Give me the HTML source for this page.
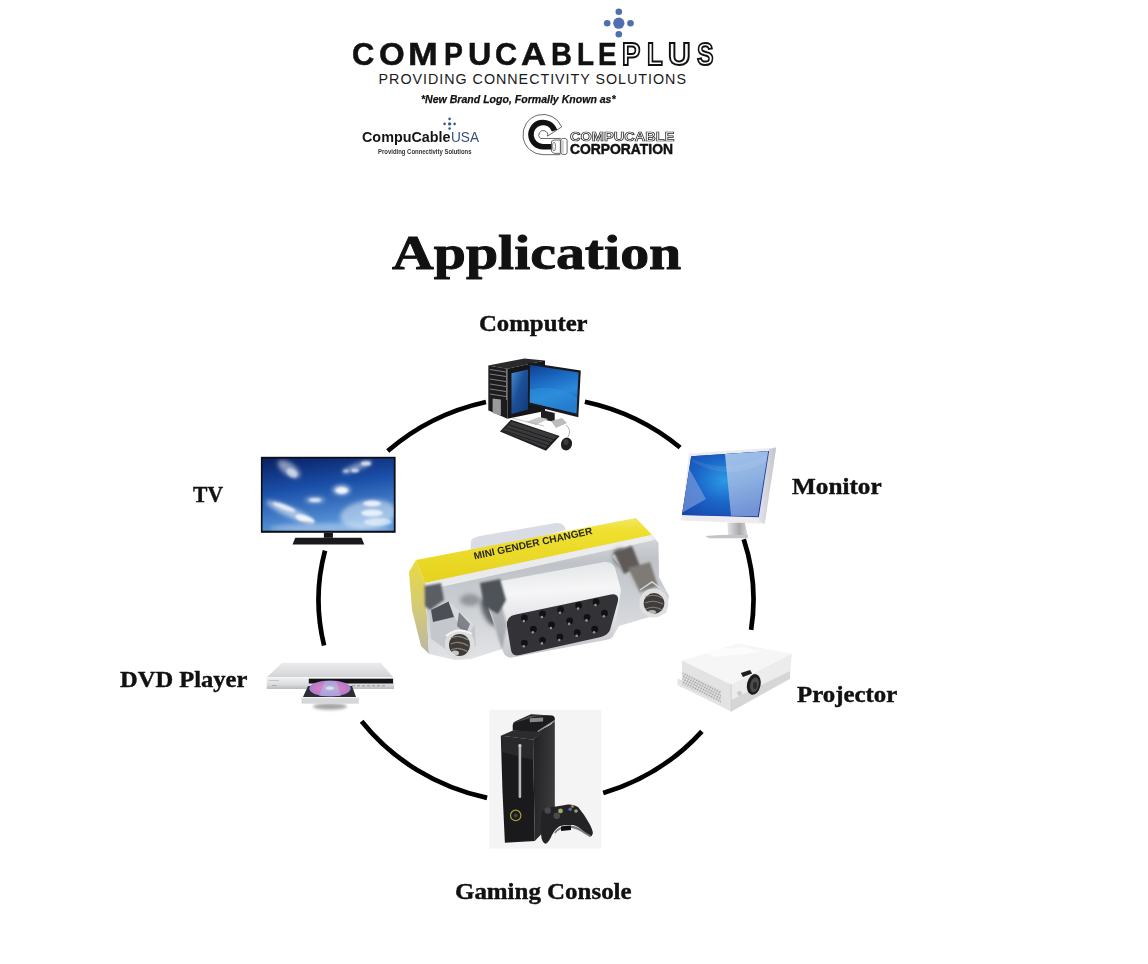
<!DOCTYPE html>
<html><head><meta charset="utf-8">
<style>
html,body{margin:0;padding:0;background:#fff;width:1148px;height:964px;overflow:hidden;position:relative}
.a{position:absolute;white-space:nowrap;line-height:1}
.lbl{position:absolute;white-space:nowrap;line-height:1;font-family:"Liberation Serif",serif;font-weight:bold;color:#111;font-size:22.5px;transform-origin:0 0;-webkit-text-stroke:0.4px #111}
.sans{font-family:"Liberation Sans",sans-serif}
.lg{position:absolute;top:37.8px;font-family:"Liberation Sans",sans-serif;font-weight:bold;font-size:32px;line-height:1;color:#111;transform-origin:0 0;-webkit-text-stroke:0.5px #111}
.lg.o{color:#fff;-webkit-text-stroke:2px #111}
</style></head><body>
<!-- LOGO -->
<span class="lg" style="left:351.7px;transform:scaleX(0.966)">C</span>
<span class="lg" style="left:378.5px;transform:scaleX(1.031)">O</span>
<span class="lg" style="left:408.4px;transform:scaleX(1.116)">M</span>
<span class="lg" style="left:443.6px;transform:scaleX(0.887)">P</span>
<span class="lg" style="left:467.6px;transform:scaleX(1.010)">U</span>
<span class="lg" style="left:495.4px;transform:scaleX(0.957)">C</span>
<span class="lg" style="left:521.2px;transform:scaleX(1.089)">A</span>
<span class="lg" style="left:550.7px;transform:scaleX(0.907)">B</span>
<span class="lg" style="left:576.6px;transform:scaleX(0.870)">L</span>
<span class="lg" style="left:597.5px;transform:scaleX(0.871)">E</span>
<span class="lg o" style="left:621.7px;transform:scaleX(0.859)">P</span>
<span class="lg o" style="left:646.8px;transform:scaleX(0.803)">L</span>
<span class="lg o" style="left:668.2px;transform:scaleX(0.979)">U</span>
<span class="lg o" style="left:696.6px;transform:scaleX(0.771)">S</span>
<div class="a sans" id="prov" style="left:378.6px;top:72.1px;font-size:14.3px;letter-spacing:0.98px;color:#1a1a1a">PROVIDING CONNECTIVITY SOLUTIONS</div>
<div class="a sans" id="nb" style="left:421px;top:93.6px;font-size:11px;font-style:italic;font-weight:bold;color:#111;-webkit-text-stroke:0.25px #111;transform:scaleX(0.959);transform-origin:0 0">*New Brand Logo, Formally Known as*</div>
<svg class="a" style="left:600px;top:4px" width="38" height="38" viewBox="600 4 38 38">
 <g fill="#4f6fb0"><circle cx="618.8" cy="23.2" r="5.6"/><circle cx="618.8" cy="11.8" r="3.3"/><circle cx="618.8" cy="34.3" r="3.3"/><circle cx="607.2" cy="23.2" r="3.3"/><circle cx="630.5" cy="23.2" r="3.3"/></g>
</svg>
<!-- SMALLLOGOS -->
<div class="a sans" style="left:362.4px;top:129.7px;font-size:14px;font-weight:bold;color:#151515;transform:scaleX(1.026);transform-origin:0 0">CompuCable</div>
<div class="a sans" style="left:451.1px;top:129.9px;font-size:14px;color:#34507e;transform:scaleX(0.975);transform-origin:0 0">USA</div>
<div class="a sans" style="left:377.5px;top:147.7px;font-size:7px;font-weight:bold;color:#333;transform:scaleX(0.85);transform-origin:0 0">Providing Connectivity Solutions</div>
<svg class="a" style="left:440px;top:114px" width="20" height="20" viewBox="440 114 20 20">
 <g fill="#3a5b8c"><circle cx="449.6" cy="123.9" r="1.7"/><circle cx="449.6" cy="118.9" r="1.3"/><circle cx="449.6" cy="128.6" r="1.3"/><circle cx="444.6" cy="123.9" r="1.3"/><circle cx="454.6" cy="123.9" r="1.3"/></g>
</svg>
<svg class="a" style="left:518px;top:110px" width="60" height="50" viewBox="0 0 1148 957">
 <path d="M836 323 A385 385 0 1 0 480 855 L810 855" fill="none" stroke="#333" stroke-width="14"/>
 <path d="M836 323 L565 500 A85 85 0 1 0 430 545 L820 545" fill="none" stroke="#333" stroke-width="14"/>
 <path d="M699 394 A232 232 0 1 0 480 702 L650 702" fill="none" stroke="#111" stroke-width="105"/>
 <path d="M640 600 L690 575 L810 575 L810 830 L690 830 L640 790 Z" fill="#fff" stroke="#333" stroke-width="14"/>
 <ellipse cx="690" cy="700" rx="28" ry="85" fill="none" stroke="#333" stroke-width="12"/>
 <rect x="820" y="545" width="120" height="305" rx="40" fill="#fff" stroke="#333" stroke-width="14"/>
 <line x1="860" y1="580" x2="860" y2="820" stroke="#555" stroke-width="10"/>
</svg>
<div class="a sans" style="left:569.5px;top:131.1px;font-size:12.9px;font-weight:bold;color:#fff;-webkit-text-stroke:0.7px #222;transform:scaleX(1.13);transform-origin:0 0">COMPUCABLE</div>
<div class="a sans" style="left:570px;top:141.7px;font-size:14.3px;font-weight:bold;color:#111;-webkit-text-stroke:0.5px #111;transform:scaleX(0.97);transform-origin:0 0">CORPORATION</div>


<div class="lbl" id="app" style="left:391.5px;top:228.5px;font-size:48px;transform:scaleX(1.205);-webkit-text-stroke:0.9px #111">Application</div>
<div class="lbl" id="l1" style="left:479.4px;top:312.6px;transform:scaleX(1.10)">Computer</div>
<div class="lbl" id="l2" style="left:192.5px;top:483.6px;transform:scaleX(0.96)">TV</div>
<div class="lbl" id="l3" style="left:120px;top:668.6px;transform:scaleX(1.09)">DVD Player</div>
<div class="lbl" id="l4" style="left:792px;top:475.6px;transform:scaleX(1.12)">Monitor</div>
<div class="lbl" id="l5" style="left:797px;top:684.1px;transform:scaleX(1.105)">Projector</div>
<div class="lbl" id="l6" style="left:454.5px;top:880.6px;transform:scaleX(1.108)">Gaming Console</div>

<svg class="a" style="left:0;top:0" width="1148" height="964" viewBox="0 0 1148 964">
  <path d="M387.7 451.1 A217.5 203.3 0 0 1 486.0 402.0 M584.9 401.7 A217.5 203.3 0 0 1 680.1 447.5 M743.7 539.3 A217.5 203.3 0 0 1 751.1 629.8 M701.9 731.3 A217.5 203.3 0 0 1 603.2 793.1 M487.1 797.9 A217.5 203.3 0 0 1 361.6 721.3 M324.1 645.5 A217.5 203.3 0 0 1 325.0 550.6" fill="none" stroke="#000" stroke-width="4.7"/>
  <!-- VGA -->
 <defs>
  <linearGradient id="yel" x1="0" y1="0" x2="0.08" y2="1"><stop offset="0" stop-color="#f2ea80"/><stop offset="0.25" stop-color="#efe030"/><stop offset="1" stop-color="#e6d21e"/></linearGradient>
  <linearGradient id="met" x1="0" y1="0" x2="0.12" y2="1"><stop offset="0" stop-color="#e2e3e6"/><stop offset="0.3" stop-color="#bfc2c7"/><stop offset="0.6" stop-color="#cdd0d4"/><stop offset="1" stop-color="#e2e3e6"/></linearGradient>
  <linearGradient id="shell" x1="0" y1="0" x2="0.1" y2="1"><stop offset="0" stop-color="#dfe1e4"/><stop offset="0.35" stop-color="#f6f6f7"/><stop offset="0.6" stop-color="#e4e5e8"/><stop offset="1" stop-color="#c4c7cb"/></linearGradient>
  <linearGradient id="lside" x1="0" y1="0" x2="0" y2="1"><stop offset="0" stop-color="#e8da40"/><stop offset="0.45" stop-color="#d8cc70"/><stop offset="1" stop-color="#b9b7a8"/></linearGradient>
  <filter id="bl4" x="-50%" y="-50%" width="200%" height="200%"><feGaussianBlur stdDeviation="2"/></filter>
  <filter id="bl5" x="-50%" y="-50%" width="200%" height="200%"><feGaussianBlur stdDeviation="1.3"/></filter>
 </defs>
 <path d="M471 543 Q470 538 480 536 L556 523 Q564 522 566 530 L470 556 Z" fill="#d9dde3"/>
 <path d="M409 572 L416 560 L425 583 L429 654 L421 646 L412 610 Z" fill="url(#lside)"/>
 <path d="M416 560 L636 518 L652 535 L425 583 Z" fill="url(#yel)"/>
 <path d="M425 583 L652 535 L658.5 543 L659 577 L669 596 L666 613 L646 618 L619 626 L612 638 L510 658 L502 649 L471 659 L455 660 L429 654 Z" fill="url(#met)"/>
 <path d="M425 583 L652 535 L655 540 L427 590 Z" fill="#f4f4f4" opacity="0.8"/>
  <g filter="url(#bl4)">
  <ellipse cx="489" cy="612" rx="6" ry="15" transform="rotate(-25 489 612)" fill="#55595e" opacity="0.9"/>
  <ellipse cx="470" cy="600" rx="10" ry="6" fill="#7a7e84" opacity="0.7"/>
  <ellipse cx="622" cy="558" rx="8" ry="10" transform="rotate(-35 622 558)" fill="#5c5a5a" opacity="0.85"/>
  <ellipse cx="640" cy="576" rx="7" ry="7" fill="#7a7672" opacity="0.8"/>
 </g>
 <path d="M483 592 Q482 585 490 583 L604 562 Q612 561 615 568 L621 590 L614 634 Q612 639 606 640 L514 657 Q505 659 503 651 Z" fill="url(#shell)"/>
 <path d="M485 595 L498 591 L507 625 L502 650 Z" fill="#8a8e94" opacity="0.6" filter="url(#bl5)"/>
 <path d="M507 626 Q506 616 516 614.5 L611 594.5 Q619 593 618 601 L610 630 Q608 635 601 637 L520 655 Q512 657 511 650 Z" fill="#333337"/>
 <circle cx="524.4" cy="618.0" r="3.4" fill="#111113"/><circle cx="523.8" cy="621.1" r="1.3" fill="#909092"/><circle cx="542.5" cy="613.9" r="3.4" fill="#111113"/><circle cx="541.9" cy="617.0" r="1.3" fill="#909092"/><circle cx="560.6" cy="609.7" r="3.4" fill="#111113"/><circle cx="560.0" cy="612.8" r="1.3" fill="#909092"/><circle cx="578.7" cy="605.5" r="3.4" fill="#111113"/><circle cx="578.1" cy="608.6" r="1.3" fill="#909092"/><circle cx="596.1" cy="602.0" r="3.4" fill="#111113"/><circle cx="595.5" cy="605.1" r="1.3" fill="#909092"/><circle cx="533.4" cy="629.2" r="3.4" fill="#111113"/><circle cx="532.8" cy="632.3" r="1.3" fill="#909092"/><circle cx="551.5" cy="625.0" r="3.4" fill="#111113"/><circle cx="550.9" cy="628.1" r="1.3" fill="#909092"/><circle cx="569.7" cy="620.8" r="3.4" fill="#111113"/><circle cx="569.1" cy="623.9" r="1.3" fill="#909092"/><circle cx="587.1" cy="617.3" r="3.4" fill="#111113"/><circle cx="586.5" cy="620.4" r="1.3" fill="#909092"/><circle cx="604.5" cy="613.2" r="3.4" fill="#111113"/><circle cx="603.9" cy="616.3" r="1.3" fill="#909092"/><circle cx="524.4" cy="643.1" r="3.4" fill="#111113"/><circle cx="523.8" cy="646.2" r="1.3" fill="#909092"/><circle cx="542.5" cy="640.3" r="3.4" fill="#111113"/><circle cx="541.9" cy="643.4" r="1.3" fill="#909092"/><circle cx="559.9" cy="636.9" r="3.4" fill="#111113"/><circle cx="559.3" cy="640.0" r="1.3" fill="#909092"/><circle cx="577.3" cy="632.7" r="3.4" fill="#111113"/><circle cx="576.7" cy="635.8" r="1.3" fill="#909092"/><circle cx="594.7" cy="629.2" r="3.4" fill="#111113"/><circle cx="594.1" cy="632.3" r="1.3" fill="#909092"/>
 <g filter="url(#bl5)">
  <path d="M424.6 586 L441 583 L444 600 L430 610 L425 606 Z" fill="#5a5e64"/>
  <path d="M480 583 L500 579 L506 600 L498 614 L484 606 Z" fill="#4e5258"/>
 </g>
 <path d="M429 611.2 L448.6 601.4 L474.7 624.3 L475.8 646 L457.3 658 L431.1 638.4 Z" fill="#c4c7cb"/>
 <path d="M431 610 L448.6 601.4 L454 617 L433 622 Z" fill="#4c5056"/>
 <path d="M448.6 601.4 L474.7 624.3 L470 632 L456 620 Z" fill="#d8dadc"/>
 <path d="M459 612 L470 624 L466 634 L457 626 Z" fill="#6a6e74" opacity="0.8"/>
 <circle cx="459.8" cy="644.4" r="15" fill="#dcdddf"/>
 <path d="M446 636 Q458 626 472 634" stroke="#f4f4f4" stroke-width="2" fill="none"/>
 <ellipse cx="459.5" cy="645" rx="10.5" ry="11" fill="#3e3a38"/>
 <g stroke="#857d76" stroke-width="1.1" fill="none"><path d="M451 638 Q459 634 468 640"/><path d="M450.5 644 Q459 640 468.5 646"/><path d="M451 650 Q459 646 468 652"/></g>
 <ellipse cx="455" cy="653" rx="4" ry="2.5" fill="#e8e8e8" opacity="0.8"/>
 <path d="M612 556 L630 545 L660 588 L644 600 Z" fill="#c2c4c7"/>
 <g filter="url(#bl5)"><path d="M614 552 L632 546 L640 566 L624 574 Z" fill="#5e5a58"/><path d="M628 568 L650 562 L658 586 L640 592 Z" fill="#7e7a76"/></g>
 <path d="M640 590 L652 582 L666 592" stroke="#d8d8d8" stroke-width="1.5" fill="none"/>
 <circle cx="653.9" cy="603.1" r="14.5" fill="#dfe0e2"/>
 <ellipse cx="654" cy="603.5" rx="10.4" ry="10.4" fill="#403c3a"/>
 <g stroke="#857d76" stroke-width="1.1" fill="none"><path d="M645.5 597 Q654 593 662.5 598"/><path d="M645 603 Q654 599 663 604"/><path d="M645.5 609 Q654 605 662.5 610"/></g>
 <ellipse cx="652" cy="612" rx="4" ry="2" fill="#e6e6e6" opacity="0.7"/>
 <text x="0" y="0" transform="translate(474.5 559.5) rotate(-12.2)" font-family="Liberation Sans" font-weight="bold" font-size="10" fill="#2a2a1e" textLength="121" lengthAdjust="spacingAndGlyphs">MINI  GENDER  CHANGER</text>
<!-- TV -->
 <defs>
  <linearGradient id="tvs" x1="0" y1="0" x2="0.25" y2="1"><stop offset="0" stop-color="#0a2064"/><stop offset="0.45" stop-color="#1a4fa8"/><stop offset="1" stop-color="#5b97d9"/></linearGradient>
  <filter id="bl1" x="-50%" y="-50%" width="200%" height="200%"><feGaussianBlur stdDeviation="2.2"/></filter>
  <clipPath id="tvclip"><rect x="262.5" y="458.5" width="131.3" height="72.2"/></clipPath>
  <filter id="bl2" x="-50%" y="-50%" width="200%" height="200%"><feGaussianBlur stdDeviation="0.9"/></filter>
 </defs>
 <rect x="260.9" y="456.8" width="134.7" height="76" fill="#0e0e10"/>
 <rect x="262.5" y="458.5" width="131.3" height="72.2" fill="url(#tvs)"/>
 <g clip-path="url(#tvclip)">
 <g fill="#fff" filter="url(#bl1)">
  <ellipse cx="289" cy="469" rx="13" ry="6" transform="rotate(35 289 469)" opacity="0.5"/>
  <ellipse cx="357" cy="467" rx="16" ry="3.5" transform="rotate(-20 357 467)" opacity="0.45"/>
  <ellipse cx="341.5" cy="490" rx="9" ry="5" opacity="0.6"/>
  <ellipse cx="315" cy="500" rx="10" ry="3" opacity="0.5"/>
  <ellipse cx="290" cy="512" rx="26" ry="5" transform="rotate(24 290 512)" opacity="0.55"/>
  <ellipse cx="368" cy="514" rx="28" ry="14" transform="rotate(-8 368 514)" opacity="0.45"/>
  <ellipse cx="330" cy="528" rx="60" ry="5" opacity="0.3"/>
 </g>
 <g fill="#fff" filter="url(#bl2)">
  <ellipse cx="292" cy="473" rx="6" ry="4" transform="rotate(35 292 473)" opacity="0.55"/>
  <ellipse cx="366" cy="463.5" rx="5" ry="2.2" opacity="0.75"/>
  <ellipse cx="355" cy="470.5" rx="4" ry="2" opacity="0.7"/>
  <ellipse cx="346" cy="471" rx="3" ry="1.6" opacity="0.6"/>
  <ellipse cx="341.7" cy="490.5" rx="6" ry="3.2" opacity="0.85"/>
  <ellipse cx="315" cy="500" rx="6" ry="2" opacity="0.7"/>
  <ellipse cx="284" cy="507" rx="12" ry="2.5" transform="rotate(20 284 507)" opacity="0.75"/>
  <ellipse cx="305" cy="519" rx="10" ry="3.5" transform="rotate(18 305 519)" opacity="0.85"/>
  <ellipse cx="372" cy="503.5" rx="9" ry="3" opacity="0.8"/>
  <ellipse cx="372" cy="513" rx="11" ry="3.5" opacity="0.75"/>
  <ellipse cx="378" cy="522" rx="14" ry="4" opacity="0.55"/>
 </g>
 <ellipse cx="306" cy="523" rx="8" ry="1.8" fill="#8a9ab8" opacity="0.5" filter="url(#bl2)"/>
 </g>
 <rect x="323.9" y="532.8" width="9" height="5" fill="#151515"/>
 <path d="M295.3 537.7 L361.5 537.7 L364.3 544.6 L292.5 544.6 Z" fill="#1a1a1c"/>
<!-- MONITOR -->
 <defs>
  <radialGradient id="ms" cx="0.5" cy="0.45" r="0.75"><stop offset="0" stop-color="#2c9ae6"/><stop offset="0.45" stop-color="#1a66c8"/><stop offset="1" stop-color="#1840a6"/></radialGradient>
  <linearGradient id="mr" x1="0" y1="0" x2="0.2" y2="1"><stop offset="0" stop-color="#a3c2ea"/><stop offset="0.5" stop-color="#8db2e2"/><stop offset="1" stop-color="#7393d6"/></linearGradient>
  <linearGradient id="mst" x1="0" y1="0" x2="1" y2="0"><stop offset="0" stop-color="#e4e4e6"/><stop offset="0.6" stop-color="#a8a8ac"/><stop offset="1" stop-color="#d8d8da"/></linearGradient>
  <linearGradient id="mbz" x1="0" y1="0" x2="1" y2="0"><stop offset="0" stop-color="#e2e3e8"/><stop offset="1" stop-color="#c4c5cc"/></linearGradient>
 </defs>
 <path d="M689 453.6 L776.2 447.6 L764.7 523.8 L681.4 520.6 Z" fill="#ececf0"/>
 <path d="M769 449 L776.2 447.6 L764.7 523.8 L758.5 521 Z" fill="url(#mbz)"/>
 <path d="M691.2 456.3 L769.1 450.9 L758.8 517.3 L682 515.1 Z" fill="#2a3c9c"/>
 <path d="M691.2 456.3 L768.2 451.2 L757.8 516.3 L682 515.1 Z" fill="url(#ms)"/>
 <path d="M725 454 L768.2 451.2 L757.8 516.3 L731 515.8 Z" fill="url(#mr)"/>
 <path d="M693 462 Q728 482 766 462 L767 455 Q728 475 692 459 Z" fill="#ffffff" opacity="0.08"/>
 <path d="M689.3 469 L706 499 L682.4 512.5 Z" fill="#7898dc" opacity="0.7"/>
 <path d="M727.5 522.8 L745 522.8 L747.5 535.8 L728 535.8 Z" fill="url(#mst)"/>
 <path d="M705.4 536 Q727 534 747.9 535 L747.9 538.2 L709 538.2 Z" fill="#c4c4c8"/>
<!-- COMPUTER -->
 <defs>
  <linearGradient id="cs" x1="0" y1="0" x2="0.3" y2="1"><stop offset="0" stop-color="#0c3f8f"/><stop offset="0.4" stop-color="#1c6cc4"/><stop offset="0.7" stop-color="#2a8ad8"/><stop offset="1" stop-color="#1a66bf"/></linearGradient>
  <linearGradient id="tw" x1="0" y1="0" x2="1" y2="1"><stop offset="0" stop-color="#4a8ed4"/><stop offset="0.45" stop-color="#1c5098"/><stop offset="1" stop-color="#123a78"/></linearGradient>
 </defs>
 <path d="M488.1 365.6 L524.4 358.4 L545 360.5 L507.4 368.7 Z" fill="#2a2a2c"/>
 <path d="M507.4 368.7 L545 360.5 L545 411 L507.4 418.7 Z" fill="#161618"/>
 <path d="M511.5 373.2 L528 369.4 L528 409.6 L511.5 414.1 Z" fill="url(#tw)"/>
 <path d="M488.1 365.6 L507.4 368.7 L507.4 418.7 L488.1 410.3 Z" fill="#1c1c1e"/>
 <g stroke="#8a8a8c" stroke-width="0.9">
  <line x1="490" y1="369.5" x2="506" y2="372"/><line x1="490" y1="374" x2="506" y2="376.5"/><line x1="490" y1="379" x2="506" y2="381.5"/>
  <line x1="490" y1="384" x2="506" y2="386.5"/><line x1="490" y1="389" x2="506" y2="391.5"/><line x1="490" y1="394" x2="506" y2="396.5"/>
 </g>
 <line x1="488.6" y1="366" x2="488.6" y2="410" stroke="#7a7a7c" stroke-width="0.8"/>
 <line x1="506.6" y1="369" x2="506.6" y2="400" stroke="#9a9a9c" stroke-width="0.8"/>
 <path d="M492.6 398.5 L500.9 399.5 L500.9 415.6 L492.6 413 Z" fill="#9a9a9c"/>
 <path d="M528.2 362.6 L580.8 370.5 L578.3 417.2 L527.9 404.8 Z" fill="#1a1a1c"/>
 <path d="M530 365 L578.5 372.5 L576.5 413.5 L529.8 402.5 Z" fill="url(#cs)"/>
 <path d="M530 390 Q555 383 577 398 L576.5 413.5 L529.8 402.5 Z" fill="#2f90dc" opacity="0.55"/>
 <path d="M541 409.7 L554.7 413 L554.7 422 L541 419 Z" fill="#1e1e20"/>
 <path d="M526 422 L539 417 L548 419 L536 425 Z" fill="#c8c8ca"/>
 <path d="M551 421 L562 418 L567 423 L556 428 Z" fill="#bcbcbe"/>
 <path d="M512 418 L544 426" stroke="#aaa" stroke-width="0.7" fill="none"/>
 <path d="M566 425 Q572 430 568 437" stroke="#999" stroke-width="0.8" fill="none"/>
 <path d="M499.9 431.5 L511 419.7 L559.7 435.9 L546 450.8 Z" fill="#202022"/>
 <path d="M502 431 L511.5 421.5 L557 436 L545.5 448 Z" fill="#3a3a3c"/>
 <g stroke="#111" stroke-width="0.7">
  <line x1="505" y1="427.5" x2="552" y2="443"/><line x1="508" y1="424.5" x2="555" y2="440"/><line x1="503" y1="430.5" x2="549" y2="446"/>
 </g>
 <ellipse cx="566.5" cy="444" rx="5.5" ry="6.5" transform="rotate(20 566.5 444)" fill="#1e1e20"/>
 <ellipse cx="566" cy="442" rx="2.5" ry="3" fill="#3a3a3c"/>
<!-- DVD -->
 <defs>
  <linearGradient id="dtop" x1="0" y1="0" x2="0" y2="1"><stop offset="0" stop-color="#ececee"/><stop offset="1" stop-color="#d2d3d6"/></linearGradient>
  <linearGradient id="dfr" x1="0" y1="0" x2="0" y2="1"><stop offset="0" stop-color="#f0f0f2"/><stop offset="0.6" stop-color="#dcdde0"/><stop offset="1" stop-color="#b9babe"/></linearGradient>
  <radialGradient id="disc" cx="0.5" cy="0.5" r="0.55"><stop offset="0" stop-color="#e8e0f0"/><stop offset="0.25" stop-color="#c890d8"/><stop offset="0.6" stop-color="#d07ac0"/><stop offset="1" stop-color="#9a80d8"/></radialGradient>
  <filter id="bl3" x="-50%" y="-50%" width="200%" height="200%"><feGaussianBlur stdDeviation="1.5"/></filter>
 </defs>
 <ellipse cx="330" cy="706.5" rx="17" ry="3.2" fill="#a4a4a4" filter="url(#bl3)"/>
 <path d="M282 662.8 L380.7 662.8 L393.5 677.4 L266.7 677.4 Z" fill="url(#dtop)"/>
 <rect x="266.7" y="677.4" width="127.4" height="11.6" fill="url(#dfr)"/>
 <rect x="266.7" y="677.2" width="127.4" height="1" fill="#f8f8f8"/>
 <rect x="308.8" y="678.7" width="84.2" height="4.8" fill="#141416"/>
 <g fill="#a8a8ac"><rect x="352" y="685" width="3" height="1.4"/><rect x="357" y="685" width="3" height="1.4"/><rect x="362" y="685" width="3" height="1.4"/><rect x="367" y="685" width="3" height="1.4"/><rect x="372" y="685" width="3" height="1.4"/><rect x="377" y="685" width="3" height="1.4"/><rect x="382" y="685" width="3" height="1.4"/></g>
 <rect x="269" y="680" width="10" height="1" fill="#c4c4c8"/><rect x="272" y="685" width="5" height="1" fill="#b0b0b4"/>
 <path d="M308 686 L352 686 L356 697 L303 697 Z" fill="#2e2e32"/>
 <ellipse cx="330" cy="688.5" rx="20.7" ry="8" fill="url(#disc)"/>
 <path d="M325 681 L336 681 L341 696 L319 696 Z" fill="#9ad0f0" opacity="0.45"/>
 <ellipse cx="330" cy="688" rx="4" ry="1.8" fill="#ddd"/>
 <rect x="301.5" y="697" width="57.3" height="6.7" fill="#d6d7da"/>
 <rect x="301.5" y="697" width="57.3" height="1.2" fill="#f2f2f4"/>
<!-- PROJECTOR -->
 <defs>
  <pattern id="vent" width="2.6" height="2.6" patternUnits="userSpaceOnUse" patternTransform="rotate(27)"><rect width="2.6" height="2.6" fill="#e4e4e4"/><circle cx="1.3" cy="1.3" r="0.85" fill="#999"/></pattern>
 </defs>
 <path d="M681.9 660.6 L738 643.6 L791.7 653.8 L731.2 684.4 Z" fill="#f6f6f6"/>
 <path d="M681.9 660.6 L731.2 684.4 L731.2 711.5 L677.4 685 L677.4 678.7 L681.9 680 Z" fill="#e3e3e3"/>
 <path d="M682.5 671.9 L721 690.5 L721 703 L682.5 684.5 Z" fill="url(#vent)"/>
 <path d="M731.2 684.4 L791.7 653.8 L790 678.7 L731.2 711.5 Z" fill="#ececec"/>
 <path d="M731.2 700 L790 671 L790 678.7 L731.2 711.5 Z" fill="#d6d6d6"/>
 <path d="M731.2 684.4 L731.2 711.5" stroke="#cfcfcf" stroke-width="1"/>
 <ellipse cx="753.8" cy="684.4" rx="6.8" ry="10.5" transform="rotate(12 753.8 684.4)" fill="#1e1e1e"/>
 <ellipse cx="754.5" cy="684.8" rx="4.3" ry="7.5" transform="rotate(12 754.5 684.8)" fill="#4a4a4c"/>
 <ellipse cx="755" cy="685.5" rx="2" ry="3.6" fill="#2a2a2c"/>
 <path d="M740.8 673 L750 670 L752.1 673.5 L743 677 Z" fill="#1e1e1e"/>
 <circle cx="739.6" cy="693.4" r="2.4" fill="#c6cdd6"/>
 <path d="M700 650 L745 647 L760 652 L715 657 Z" fill="#ffffff" opacity="0.7"/>
<!-- XBOX -->
 <defs><linearGradient id="xside" x1="0" y1="0" x2="1" y2="0.3"><stop offset="0" stop-color="#202022"/><stop offset="1" stop-color="#3a3a3c"/></linearGradient></defs>
 <rect x="489.3" y="709.6" width="112" height="139" fill="#f4f4f4"/>
 <path d="M500.8 735.7 L512.4 730.7 L538.9 730.7 L553.9 723.2 L533.1 739.8 Z" fill="#2c2c2e"/>
 <path d="M512.7 725 Q513 722 516 721 L531 714.3 L552 715.5 Q555 716 554.8 719 L554.8 721 L537.7 731.5 L512.7 730.8 Z" fill="#1c1c1e"/>
 <path d="M529.8 718.3 L543.1 717.6 L543.1 721.6 L529.8 722.2 Z" fill="#8a8a8c"/>
 <path d="M512.4 723.2 L529.8 715.8 L553.9 715 L536 716.5 Z" fill="#4a4a4c"/>
 <path d="M533.1 739.8 L554.8 721 L554.8 820 L534.8 841.1 Z" fill="url(#xside)"/>
 <path d="M537.7 731.5 L554.8 720.5" stroke="#9a9a9c" stroke-width="1.2"/>
 <path d="M500.8 735.7 L533.1 739.8 L534.8 841.1 L504.9 842.8 Q502 790 500.8 735.7 Z" fill="#1a1a1c"/>
 <path d="M501 736 L533 740 L533.5 760 L502 752 Z" fill="#333336" opacity="0.6"/>
 <rect x="518.6" y="744.8" width="2.6" height="53.2" rx="1.3" fill="#b8b8ba"/>
 <circle cx="519.9" cy="745.5" r="1.6" fill="#d0d0d0"/>
 <circle cx="515.7" cy="815.4" r="5.2" fill="#1a1a1a" stroke="#a8a040" stroke-width="1.2"/>
 <circle cx="515.7" cy="815.4" r="2" fill="#444"/>
 <path d="M542.2 811 Q548 807 556 806.5 Q563 805.5 567.8 804.5 Q574 804 578 807 Q584 814 589 823 Q593 830 592.8 833.5 Q592 837 589.5 836.5 Q586 834 583 831 Q578 826 573 825 Q566 824.5 560 826 Q555 829 552 835 Q549 842 546 843.8 Q542.5 843 541.5 838 Q540 829 540.4 820 Z" fill="#232325"/>
 <path d="M554.4 832 Q560 826 566 825.5 Q574 825 580 828.5 Q587 833.5 591 835.5 L590 837 Q585 834.5 581 831.5 Q574 827.5 566 827.5 Q559 828.5 555 834 Z" fill="#7a7a7c"/>
 <path d="M561 826.5 L571 825.5 L571 830 L561 831 Z" fill="#0e0e10"/>
 <circle cx="547.7" cy="810.5" r="3.2" fill="#4a4a4c"/><circle cx="556.8" cy="815.7" r="3.2" fill="#4a4a4c"/>
 <circle cx="560.5" cy="810.9" r="2.4" fill="#9ab060"/><circle cx="570.2" cy="809.2" r="1.8" fill="#4a70a8"/><circle cx="572.5" cy="806.3" r="1.6" fill="#a07848"/><circle cx="576" cy="811" r="1.8" fill="#90a868"/>
<!-- IMAGES -->
</svg>
</body></html>
